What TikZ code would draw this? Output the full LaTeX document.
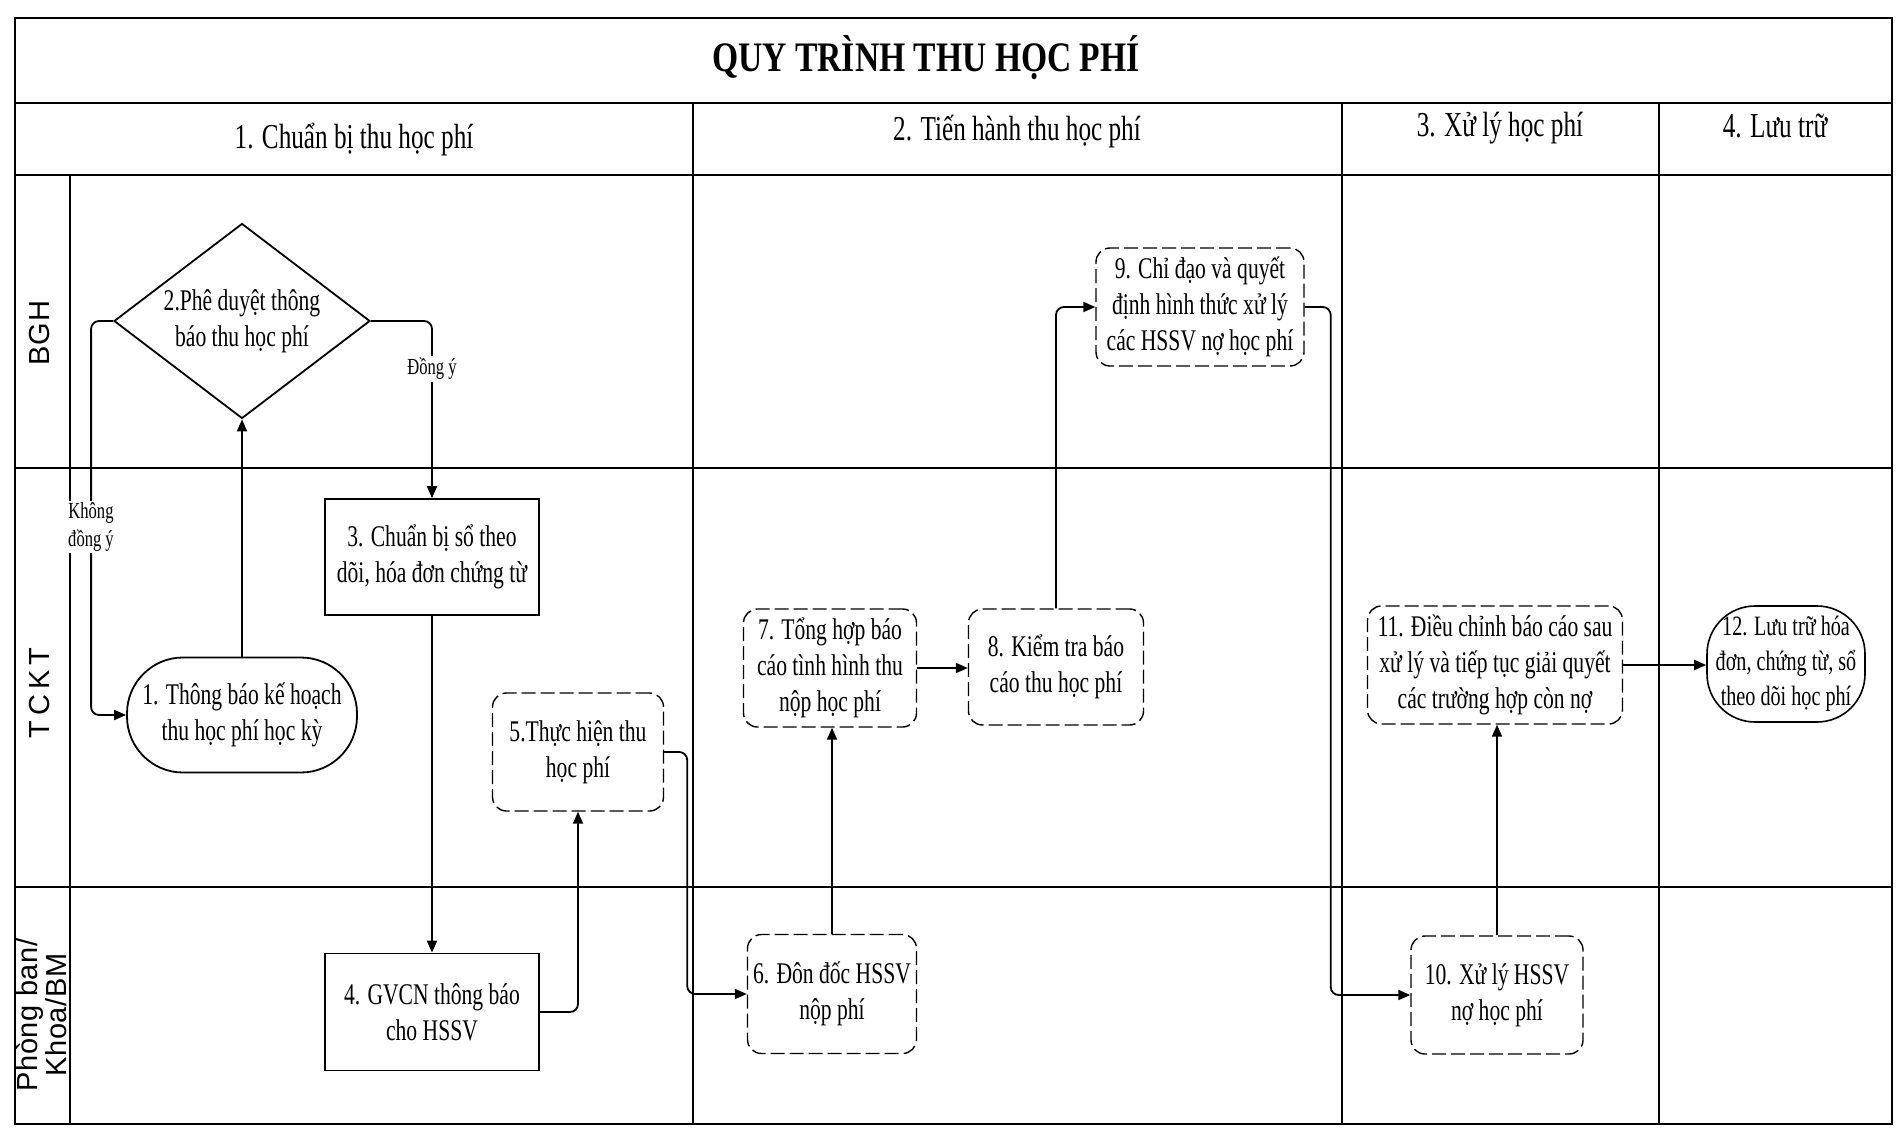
\documentclass[tikz,border=0pt]{standalone}
\usepackage{fontspec}
\setmainfont{Liberation Serif}[FakeStretch=0.72]
\newfontfamily\titlefont{Liberation Serif}[FakeStretch=0.8]
\newfontfamily\lanefont{Liberation Sans}[LetterSpace=2]
\usetikzlibrary{shapes.geometric,arrows.meta,calc}
\begin{document}
\begin{tikzpicture}[x=0.5pt,y=-0.5pt,
  gridline/.style={line width=1pt,black},
  conn/.style={line width=0.9pt,rounded corners=4pt,-{Triangle[length=6pt,width=5pt]}},
  txt/.style={font=\fontsize{15}{18}\selectfont,align=center},
  solidbox/.style={txt,draw,line width=0.9pt,inner sep=0pt},
  dashbox/.style={txt,draw,line width=0.7pt,dash pattern=on 7pt off 2.5pt,rounded corners=7pt,inner sep=0pt},
  lanelbl/.style={font=\lanefont\fontsize{14.5}{13.5}\selectfont,rotate=90,align=center},
  headlbl/.style={font=\fontsize{17.5}{20}\selectfont},
  edgelbl/.style={font=\fontsize{11.5}{14}\selectfont,align=center,fill=white,inner sep=1pt}
]
\useasboundingbox (0,0) rectangle (1899,1128);
% frame and grid
\draw[line width=1.2pt] (15,18) rectangle (1892,1124);
\draw[gridline] (15,103) -- (1892,103);
\draw[gridline] (15,175) -- (1892,175);
\draw[gridline] (15,468) -- (1892,468);
\draw[gridline] (15,887) -- (1892,887);
\draw[gridline] (70,175) -- (70,1124);
\draw[gridline] (693,103) -- (693,1124);
\draw[gridline] (1342,103) -- (1342,1124);
\draw[gridline] (1659,103) -- (1659,1124);
% titles
\node[font=\titlefont\bfseries\fontsize{21}{24}\selectfont] (title) at (926,58) {QUY TRÌNH THU HỌC PHÍ};
\node[headlbl] (h1) at (354,140) {1. Chuẩn bị thu học phí};
\node[headlbl] (h2) at (1017,132) {2. Tiến hành thu học phí};
\node[headlbl] (h3) at (1500,128) {3. Xử lý học phí};
\node[headlbl] (h4) at (1775,126) {4. Lưu trữ};
% lane labels
\node[lanelbl] (l1) at (40,333) {BGH};
\node[lanelbl] (l2) at (40,693) {T\,C\,K\,T};
\node[lanelbl] (l3) at (41,1015) {Phòng ban/\\Khoa/BM};
% nodes
\node[txt,draw,shape=diamond,aspect=1.31,inner sep=0pt,line width=0.9pt,minimum width=128pt,minimum height=97.5pt] (d2) at (242,321) {2.Phê duyệt thông\\báo thu học phí};
\node[solidbox,minimum width=107pt,minimum height=58pt] (n3) at (432,557) {3. Chuẩn bị sổ theo\\dõi, hóa đơn chứng từ};
\node[solidbox,rounded corners=28pt,minimum width=115pt,minimum height=57.5pt] (n1) at (242,715) {1. Thông báo kế hoạch\\thu học phí học kỳ};
\node[solidbox,minimum width=107pt,minimum height=58.5pt] (n4) at (432,1012) {4. GVCN thông báo\\cho HSSV};
\node[dashbox,minimum width=85.5pt,minimum height=59pt] (n5) at (578,752) {5.Thực hiện thu\\học phí};
\node[dashbox,minimum width=84.5pt,minimum height=59.5pt] (n6) at (832,994) {6. Đôn đốc HSSV\\nộp phí};
\node[dashbox,minimum width=86.5pt,minimum height=59pt] (n7) at (830,668) {7. Tổng hợp báo\\cáo tình hình thu\\nộp học phí};
\node[dashbox,minimum width=87.5pt,minimum height=58pt] (n8) at (1056,667) {8. Kiểm tra báo\\cáo thu học phí};
\node[dashbox,minimum width=104pt,minimum height=59pt] (n9) at (1200,307) {9. Chỉ đạo và quyết\\định hình thức xử lý\\các HSSV nợ học phí};
\node[dashbox,minimum width=86pt,minimum height=59pt] (n10) at (1497,995) {10. Xử lý HSSV\\nợ học phí};
\node[dashbox,minimum width=127.5pt,minimum height=59pt] (n11) at (1495,665) {11. Điều chỉnh báo cáo sau\\xử lý và tiếp tục giải quyết\\các trường hợp còn nợ};
\node[solidbox,font=\fontsize{14}{17.5}\selectfont,line width=0.8pt,rounded corners=24pt,minimum width=79pt,minimum height=58pt] (n12) at (1786,664) {12. Lưu trữ hóa\\đơn, chứng từ, sổ\\theo dõi học phí};
% connectors
\draw[conn] (n1.north) -- (d2.south);
\draw[conn] (d2.west) -- ++(-22,0) |- (n1.west);
\draw[conn] (d2.east) -| (n3.north);
\draw[conn] (n3.south) -- (n4.north);
\draw[conn] (n4.east) -| (n5.south);
\draw[conn] (n5.east) -- ++(23,0) |- (n6.west);
\draw[conn] (n6.north) -- (n6.north |- n7.south);
\draw[conn] (n7.east) -- (n7.east -| n8.west);
\draw[conn] (n8.north) |- (n9.west);
\draw[conn] (n9.east) -- ++(26,0) |- (n10.west);
\draw[conn] (n10.north) -- (n10.north |- n11.south);
\draw[conn] (n11.east) -- (n11.east -| n12.west);
% edge labels
\node[edgelbl] (lk) at (91,527) {Không\\đồng ý};
\node[edgelbl] (ld) at (432,369) {Đồng ý};
\end{tikzpicture}
\end{document}
